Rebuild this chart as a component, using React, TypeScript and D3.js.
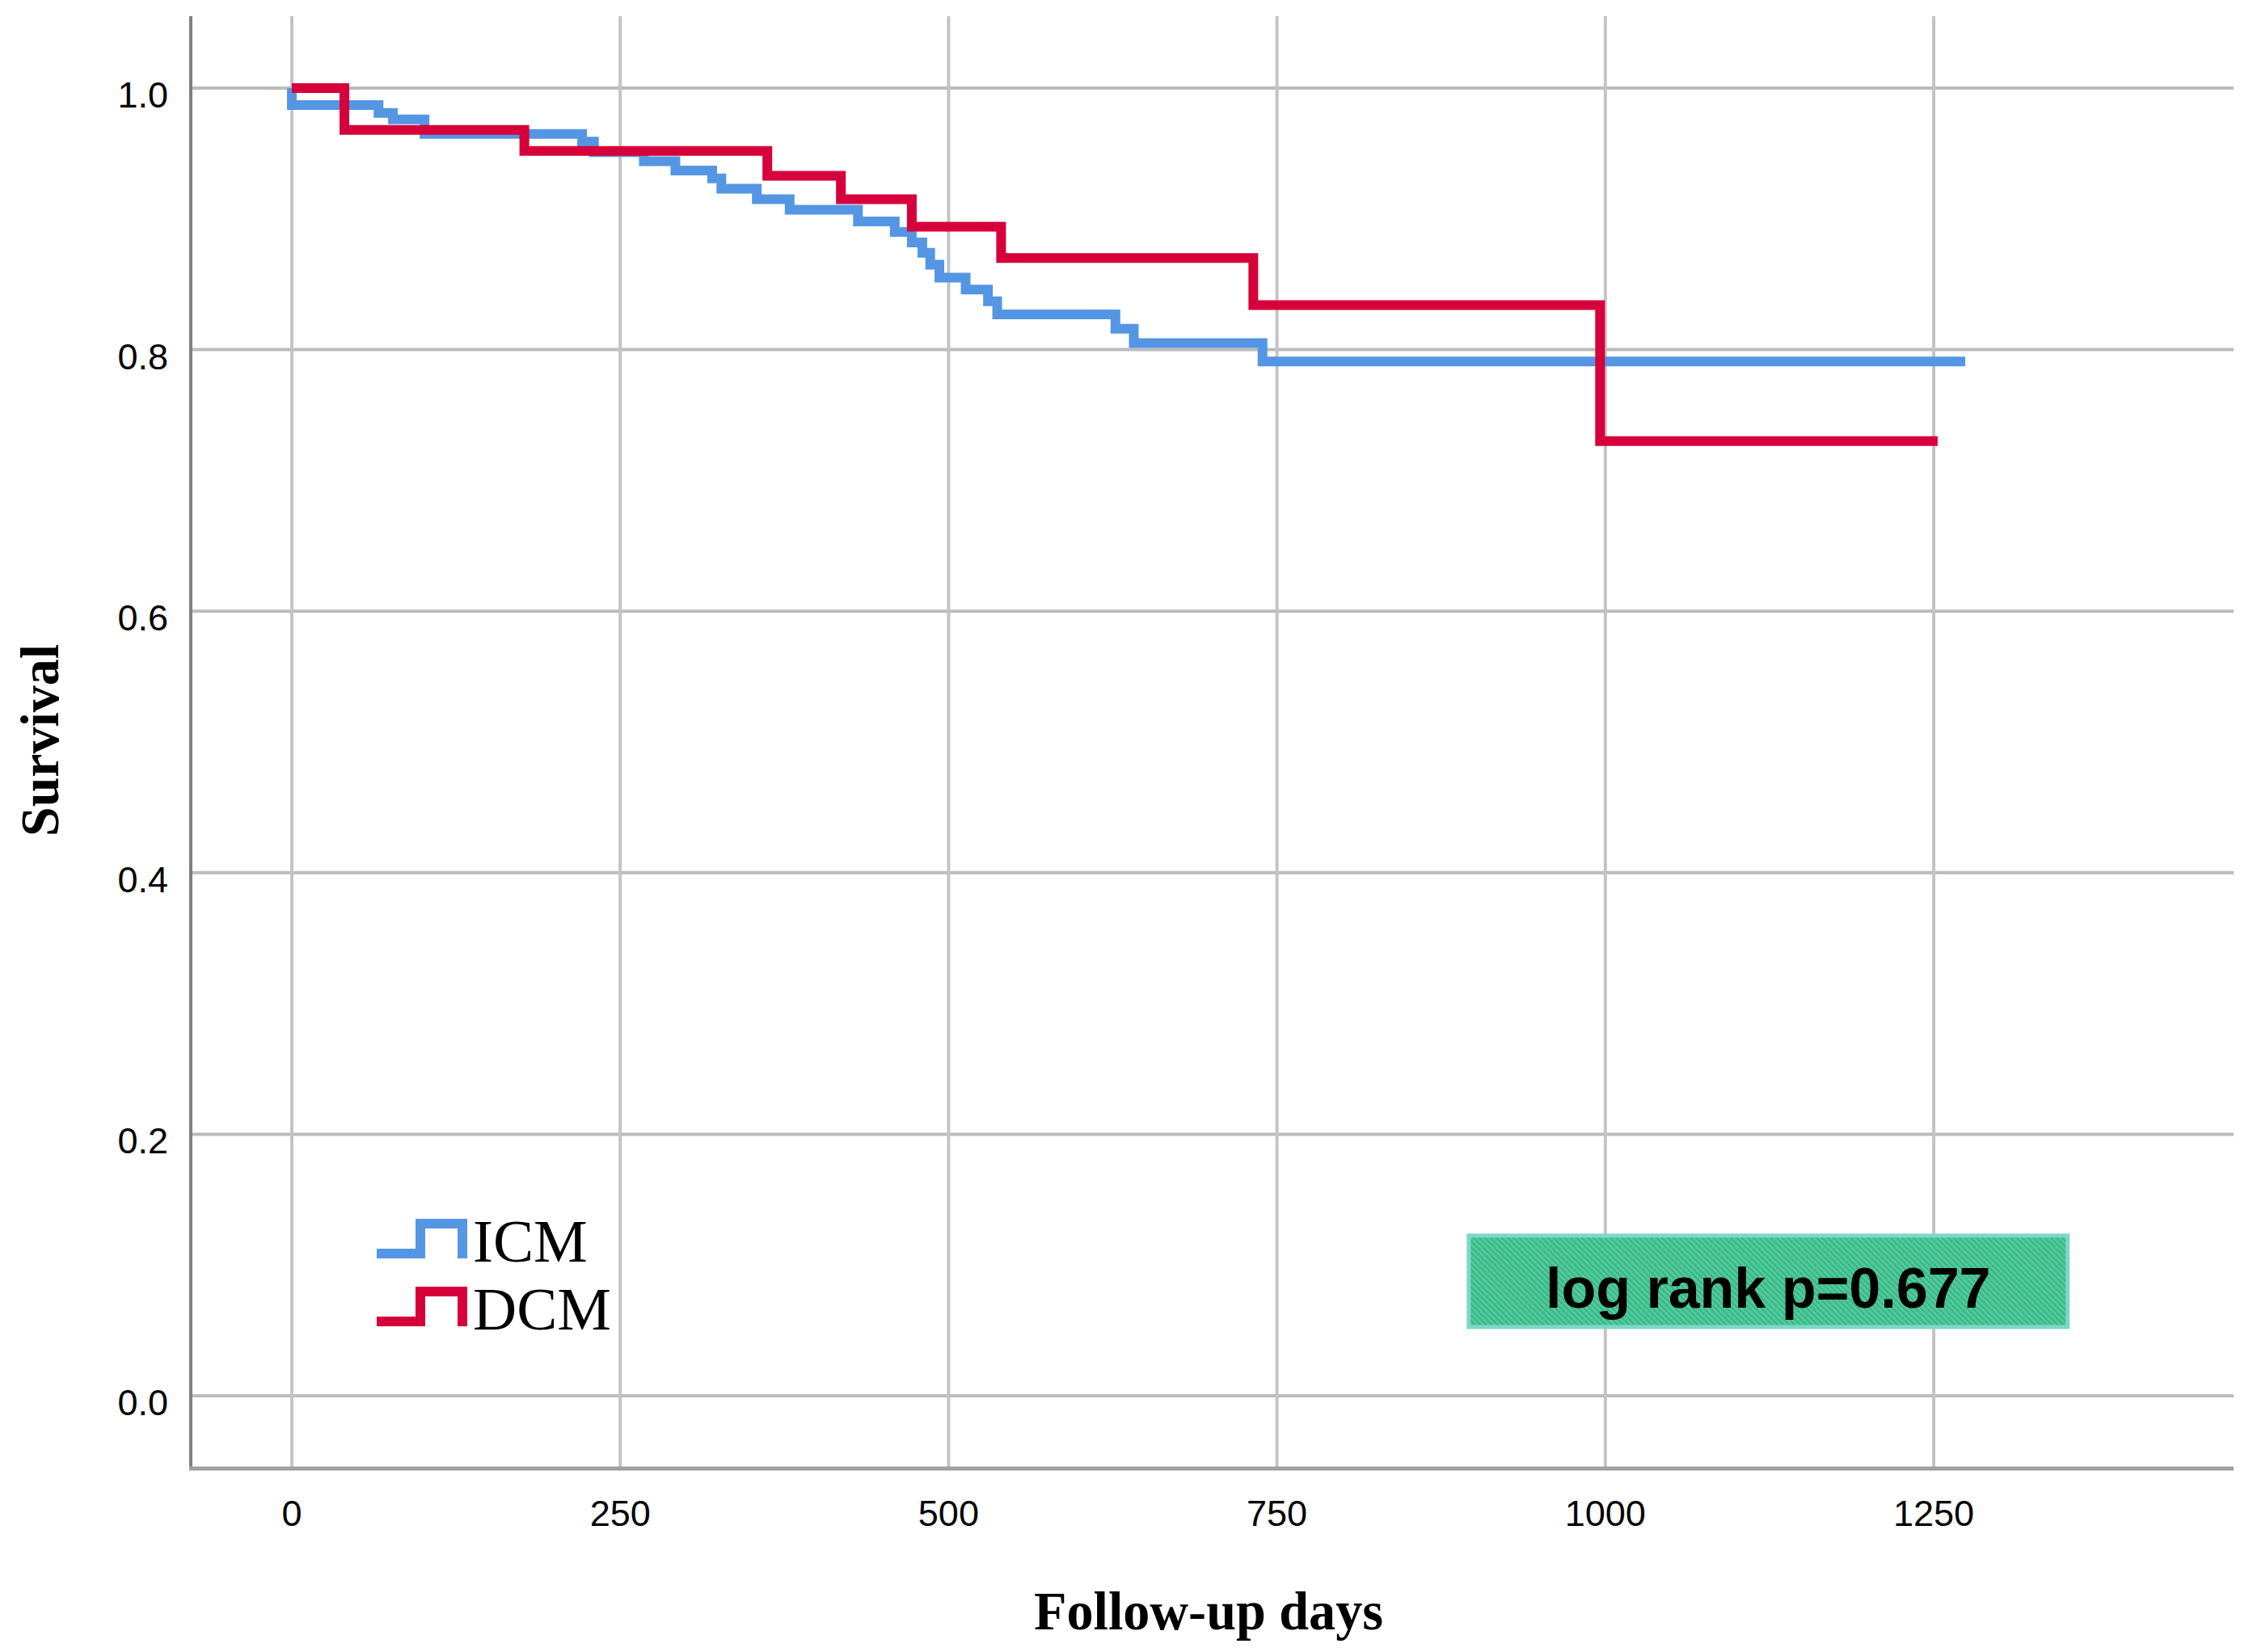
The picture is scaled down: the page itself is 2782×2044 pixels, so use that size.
import React, { useEffect, useRef } from "react";
import * as d3 from "d3";

// Kaplan-Meier steps: day the survival changes, and the new value
const icmDays = [0, 0, 66, 77, 101, 221, 230, 268, 292, 320, 327, 354, 379, 431, 459, 472, 480, 486, 493, 513, 530, 537, 627, 641, 739, 1274];
const icmSurvival = [1.0, 0.987, 0.981, 0.976, 0.965, 0.959, 0.951, 0.944, 0.937, 0.931, 0.923, 0.915, 0.907, 0.898, 0.89, 0.882, 0.874, 0.865, 0.855, 0.846, 0.837, 0.827, 0.816, 0.805, 0.791, 0.791];

const dcmDays = [0, 40, 177, 362, 418, 472, 540, 732, 996, 1253];
const dcmSurvival = [1.0, 0.968, 0.952, 0.933, 0.915, 0.894, 0.87, 0.834, 0.73, 0.73];

const groups = ["ICM", "DCM"];
const groupColors = ["#5596e4", "#d6003a"];

const xTicks = [0, 250, 500, 750, 1000, 1250];
const yTicks = [0, 0.2, 0.4, 0.6, 0.8, 1.0];

const xTitle = "Follow-up days";
const yTitle = "Survival";
const pValueLabel = "log rank p=0.677";

const App = () => {
  const svgRef = useRef(null);
  const width = 2782;
  const height = 2044;
  const plotLeft = 236;
  const plotRight = 2763;
  const plotTop = 20;
  const plotBottom = 1817;

  useEffect(() => {
    if (!svgRef.current) return;

    const x = d3.scaleLinear([0, 1250], [361, 2392]);
    const y = d3.scaleLinear([0, 1], [1727, 109]);

    const svg = d3
      .select(svgRef.current)
      .attr("width", width)
      .attr("height", height)
      .attr("viewBox", [0, 0, width, height]);
    svg.selectAll("*").remove();

    svg.append("rect").attr("width", width).attr("height", height).attr("fill", "#fff");

    // hatch pattern for the p-value box
    const defs = svg.append("defs");
    const pat = defs
      .append("pattern")
      .attr("id", "hatch")
      .attr("patternUnits", "userSpaceOnUse")
      .attr("width", 5)
      .attr("height", 5)
      .attr("patternTransform", "rotate(-45)");
    pat.append("rect").attr("width", 5).attr("height", 5).attr("fill", "#5ac88c");
    pat.append("rect").attr("width", 1.5).attr("height", 5).attr("fill", "#1bb2a0");

    // grid
    svg
      .append("g")
      .selectAll("line")
      .data(yTicks)
      .join("line")
      .attr("x1", plotLeft)
      .attr("x2", plotRight)
      .attr("y1", (d) => y(d))
      .attr("y2", (d) => y(d))
      .attr("stroke", "#bcbcbc")
      .attr("stroke-width", 4);

    svg
      .append("g")
      .selectAll("line")
      .data(xTicks)
      .join("line")
      .attr("x1", (d) => x(d))
      .attr("x2", (d) => x(d))
      .attr("y1", plotTop)
      .attr("y2", plotBottom)
      .attr("stroke", "#c4c4c4")
      .attr("stroke-width", 4);

    // axes
    svg
      .append("line")
      .attr("x1", plotLeft)
      .attr("x2", plotLeft)
      .attr("y1", plotTop)
      .attr("y2", plotBottom + 2)
      .attr("stroke", "#808080")
      .attr("stroke-width", 4);
    svg
      .append("line")
      .attr("x1", plotLeft - 2)
      .attr("x2", plotRight)
      .attr("y1", plotBottom)
      .attr("y2", plotBottom)
      .attr("stroke", "#a0a0a0")
      .attr("stroke-width", 5);

    // tick labels
    svg
      .append("g")
      .attr("font-family", "'Liberation Sans', Arial, sans-serif")
      .attr("font-size", 45)
      .attr("text-anchor", "end")
      .selectAll("text")
      .data(yTicks)
      .join("text")
      .attr("x", 208)
      .attr("y", (d) => y(d) + 24)
      .text((d) => d3.format(".1f")(d));

    svg
      .append("g")
      .attr("font-family", "'Liberation Sans', Arial, sans-serif")
      .attr("font-size", 45)
      .attr("text-anchor", "middle")
      .selectAll("text")
      .data(xTicks)
      .join("text")
      .attr("x", (d) => x(d))
      .attr("y", 1888)
      .text((d) => d);

    // axis titles
    svg
      .append("text")
      .attr("transform", "translate(72,916) rotate(-90)")
      .attr("text-anchor", "middle")
      .attr("font-family", "'Liberation Serif', 'Times New Roman', serif")
      .attr("font-weight", "bold")
      .attr("font-size", 68)
      .attr("textLength", 238)
      .attr("lengthAdjust", "spacingAndGlyphs")
      .text(yTitle);

    svg
      .append("text")
      .attr("x", 1495)
      .attr("y", 2016)
      .attr("text-anchor", "middle")
      .attr("font-family", "'Liberation Serif', 'Times New Roman', serif")
      .attr("font-weight", "bold")
      .attr("font-size", 68)
      .attr("textLength", 432)
      .attr("lengthAdjust", "spacingAndGlyphs")
      .text(xTitle);

    // survival curves
    const line = d3
      .line()
      .x((d) => x(d[0]))
      .y((d) => y(d[1]))
      .curve(d3.curveStepAfter);

    const series = [
      icmDays.map((d, i) => [d, icmSurvival[i]]),
      dcmDays.map((d, i) => [d, dcmSurvival[i]]),
    ];

    series.forEach((pts, i) => {
      svg
        .append("path")
        .attr("fill", "none")
        .attr("stroke", groupColors[i])
        .attr("stroke-width", 12)
        .attr("stroke-linejoin", "miter")
        .attr("d", line(pts));
    });

    // legend
    const legend = svg.append("g").attr("transform", "translate(466,1514)");
    groups.forEach((g, i) => {
      const row = legend.append("g").attr("transform", `translate(0,${i * 84})`);
      row
        .append("path")
        .attr("d", "M0,37 H54 V0 H106 V43")
        .attr("fill", "none")
        .attr("stroke", groupColors[i])
        .attr("stroke-width", 12);
      row
        .append("text")
        .attr("x", 119)
        .attr("y", 47)
        .attr("font-family", "'Liberation Serif', 'Times New Roman', serif")
        .attr("font-size", 75)
        .text(g);
    });

    // p-value annotation
    const bx0 = x(896);
    const bx1 = x(1352);
    const by0 = y(0.1225);
    const by1 = y(0.0526);
    svg
      .append("rect")
      .attr("x", bx0)
      .attr("y", by0)
      .attr("width", bx1 - bx0)
      .attr("height", by1 - by0)
      .attr("fill", "url(#hatch)")
      .attr("stroke", "#7fd7c9")
      .attr("stroke-width", 5);
    svg
      .append("text")
      .attr("x", (bx0 + bx1) / 2)
      .attr("y", 1618)
      .attr("text-anchor", "middle")
      .attr("font-family", "'Liberation Sans', Arial, sans-serif")
      .attr("font-weight", "bold")
      .attr("font-size", 70)
      .text(pValueLabel);
  }, []);

  return (
    <svg
      ref={svgRef}
      style={{ position: "absolute", left: 0, top: 0, display: "block" }}
    />
  );
};

export default App;
